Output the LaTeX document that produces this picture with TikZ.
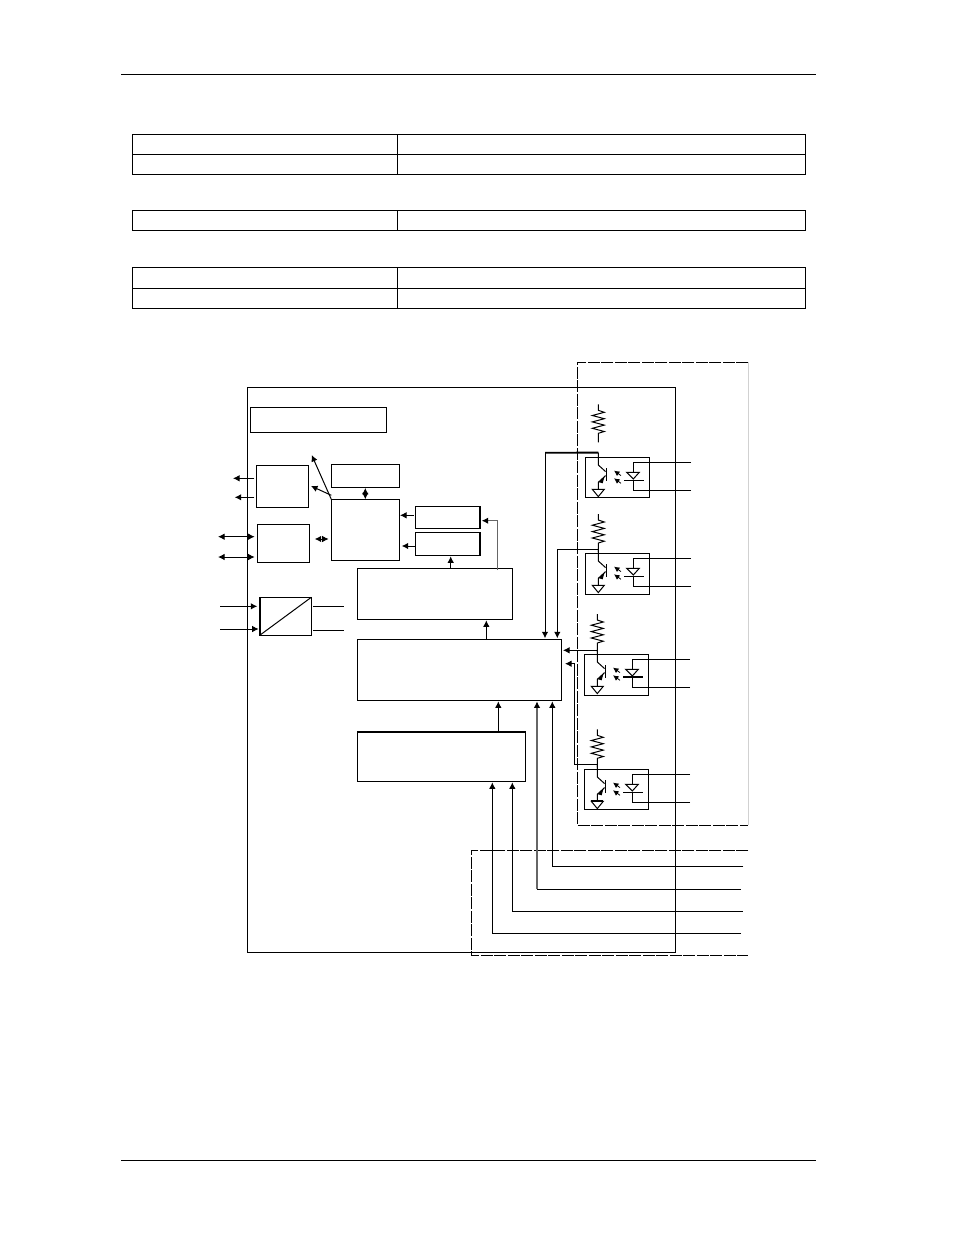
\documentclass[tikz,border=0pt]{standalone}
\usetikzlibrary{arrows.meta}
\tikzset{
  x=1pt,y=-1pt,
  every path/.style={line width=1pt,line join=miter},
  wire/.style={line width=1pt},
  gwire/.style={line width=1.2pt,draw=black!60},
  twire/.style={line width=1.8pt},
  arr/.style={wire,-{Latex[length=6.5pt,width=6.5pt]}},
  garr/.style={gwire,-{Latex[length=6.5pt,width=6.5pt,color=black]}},
  barr/.style={wire,{Latex[length=6.5pt,width=6.5pt]}-{Latex[length=6.5pt,width=6.5pt]}},
  tinyarr/.style={line width=.8pt,-{Latex[length=5.5pt,width=5.5pt]}},
  dashbox/.style={line width=1pt,dash pattern=on 12pt off 1.5pt},
  gdash/.style={line width=1pt,draw=black!18},
  bx/.style={draw,line width=1pt,inner sep=0pt,outer sep=0pt,anchor=north west},
}
% name, x1, y1, x2, y2
\newcommand{\bxnode}[6][]{%
  \pgfmathsetlengthmacro{\bw}{#5-#3}\pgfmathsetlengthmacro{\bh}{#6-#4}%
  \node[bx,minimum width=\bw,minimum height=\bh,#1] (#2) at (#3,#4) {};}
% optocoupler: name, x, y, h
\newcommand{\opto}[4]{%
  \begin{scope}[shift={(#2,#3)}]
    \node[bx,minimum width=64pt,minimum height=#4pt] (#1) at (0,0) {};
    \coordinate (#1c) at (13,-4.7);
    \coordinate (#1a) at (105.7,5.2);
    \coordinate (#1k) at (105.7,32.7);
    \coordinate (#1p) at (48,5.2);
    \coordinate (#1l) at (38.7,22.7);
    \coordinate (#1r) at (58.7,22.7);
    \draw (#1c) -- (13,7.7) -- (20.3,14.3);
    \draw (21,11) -- (21,23.7);
    \draw (20.3,18.3) -- (13,25) -- (13,32);
    \fill (13.2,24.8) -- (19,19.8) -- (17.4,26) -- cycle;
    \coordinate (#1gl) at (7,32);
    \coordinate (#1gr) at (19,32);
    \draw (#1gl) -- (#1gr) -- (13,39.3) -- cycle;
    \draw[tinyarr] (35.7,18.3) -- (28.7,13.3);
    \draw[tinyarr] (35.7,26) -- (28.7,21);
    \draw (41.3,15) -- (54,15) -- (48,21.7) -- cycle;
    \draw (#1a) -- (#1p) -- (48,15);
    \draw (#1k) -- (48,32.7) -- (48,22.7);
    \draw (#1l) -- (#1r);
  \end{scope}}
% resistor: name, x, top y
\newcommand{\resistor}[3]{%
  \coordinate (#1t) at (#2,#3);
  \coordinate (#1b) at (#2,#3+38);
  \draw[line join=miter] (#1t) -- ++(0,6) -- ++(6,2) -- ++(-12,3.2) -- ++(12,3.2) -- ++(-12,3.2) -- ++(12,3.2) -- ++(-12,3.2) -- ++(12,3.2) -- ++(-6,1.8) -- (#1b);}
\begin{document}
\begin{tikzpicture}
\useasboundingbox (0,0) rectangle (954,1235);
\fill[white] (0,0) rectangle (954,1235);
% page rules
\coordinate (hl) at (121,74.3); \coordinate (hr) at (816,74.3);
\coordinate (fl) at (121,1160); \coordinate (fr) at (816,1160);
\draw (hl) -- (hr);
\draw (fl) -- (fr);
% tables
\bxnode{ta}{132.3}{134.3}{397.3}{154.3}
\bxnode{tb}{397.3}{134.3}{805.3}{154.3}
\bxnode{tc}{132.3}{154.3}{397.3}{174.3}
\bxnode{td}{397.3}{154.3}{805.3}{174.3}
\bxnode{te}{132.3}{210.3}{397.3}{230.3}
\bxnode{tf}{397.3}{210.3}{805.3}{230.3}
\bxnode{tg}{132.3}{267.2}{397.3}{288.3}
\bxnode{th}{397.3}{267.2}{805.3}{288.3}
\bxnode{ti}{132.3}{288.3}{397.3}{308.3}
\bxnode{tj}{397.3}{288.3}{805.3}{308.3}
% dashed enclosures
\coordinate (ud1) at (748.3,362.3); \coordinate (ud2) at (577.3,362.3);
\coordinate (ud3) at (577.3,825.3); \coordinate (ud4) at (748.3,825.3);
\draw[dashbox] (ud1) -- (ud2) -- (ud3) -- (ud4);
\draw[gdash] (ud1) -- (ud4);
\coordinate (ld1) at (748.3,850.3); \coordinate (ld2) at (471.3,850.3);
\coordinate (ld3) at (471.3,955.3); \coordinate (ld4) at (748.3,955.3);
\draw[dashbox] (ld1) -- (ld2) -- (ld3) -- (ld4);
% blocks
\bxnode{outer}{247.5}{387.5}{675}{952}
\bxnode{title}{250.3}{407.5}{386.3}{432}
\bxnode{bA}{256.3}{465.3}{308.3}{507.3}
\bxnode{bB}{257.3}{524.3}{309.3}{562.3}
\bxnode{mem}{331.3}{464.3}{399.3}{487.3}
\bxnode{cpu}{331.3}{499.3}{399.3}{560.3}
\bxnode{sa}{415.3}{506.3}{480.3}{528.3}
\bxnode{sb}{415.3}{532.3}{480.3}{555.3}
\bxnode{lg}{357.3}{568.3}{512.7}{619.3}
\bxnode{mn}{357.3}{639.3}{561.3}{700.3}
\bxnode{lw}{357.3}{731.7}{525.3}{781.3}
\bxnode{cv}{259.7}{597.3}{311.3}{635.3}
\draw[twire] (lw.north west) -- (lw.north east);
\draw[twire] (sa.north east) -- (sa.south east);
\draw[twire] (sb.north east) -- (sb.south east);
\draw[twire] (cv.north west) -- (cv.south west);
\draw (cv.south west) -- (cv.north east);
% left arrows
\coordinate (a1) at (233,478.3); \coordinate (a2) at (234.7,497.3);
\draw[arr] ([xshift=-2pt]bA.west |- a1) -- (a1);
\draw[arr] ([xshift=-2pt]bA.west |- a2) -- (a2);
\coordinate (b1) at (218,536.7); \coordinate (b2) at (218,557);
\draw[barr] (b1) -- ([xshift=-2.6pt]bB.west |- b1);
\draw[barr] (b2) -- ([xshift=-2.6pt]bB.west |- b2);
\coordinate (c1) at (314.7,539);
\draw[barr] (c1) -- ([xshift=-2.6pt]cpu.west |- c1);
\draw[barr] ([yshift=-.6pt]mem.south) -- (cpu.north);
\coordinate (d1) at (311,486); \coordinate (d2) at (311.7,455);
\draw[arr] ([yshift=4pt]cpu.north west) -- (d1);
\draw[arr] (cpu.north west) -- (d2);
\coordinate (e1) at (413.7,515.3); \coordinate (e2) at (415.3,546);
\draw[arr] (e1) -- ([xshift=.7pt]cpu.east |- e1);
\draw[arr] (e2) -- ([xshift=2.4pt]cpu.east |- e2);
\coordinate (f1) at (450.7,568.3);
\draw[arr] (f1) -- ([yshift=-1pt]sb.south -| f1);
\coordinate (g1) at (497.7,570); \coordinate (g2) at (497.7,520.7);
\draw[garr] (g1) -- (g2) -- ([xshift=1.4pt]sa.east |- g2);
\coordinate (h1) at (486.3,639.3);
\draw[arr] (h1) -- ([yshift=-1pt]lg.south -| h1);
\coordinate (i1) at (498.3,731.7);
\draw[arr] (i1) -- ([yshift=-1pt]mn.south -| i1);
% converter wires
\coordinate (j1) at (220,606.3); \coordinate (j2) at (220,629);
\coordinate (j3) at (343.7,606.3); \coordinate (j4) at (343.7,630);
\draw[arr] (j1) -- ([xshift=-2.4pt]cv.west |- j1);
\draw[arr] (j2) -- ([xshift=-1pt]cv.west |- j2);
\draw ([xshift=1.7pt]cv.east |- j3) -- (j3);
\draw ([xshift=1.7pt]cv.east |- j4) -- (j4);
% lower signals
\coordinate (k1) at (741,933.3); \coordinate (k1c) at (492.3,933.3);
\coordinate (k2) at (742.7,911.3); \coordinate (k2c) at (512.3,911.3);
\coordinate (k3) at (740.7,889.3); \coordinate (k3c) at (537,889.3);
\coordinate (k4) at (743.3,866.7); \coordinate (k4c) at (552.3,866.7);
\draw[arr] (k1) -- (k1c) -- ([yshift=-1pt]lw.south -| k1c);
\draw[arr] (k2) -- (k2c) -- ([yshift=-1pt]lw.south -| k2c);
\draw[garr,line width=1.5pt] (k3c) -- ([yshift=-1pt]mn.south -| k3c);
\draw (k3) -- (k3c);
\draw[arr] (k4) -- (k4c) -- ([yshift=-1pt]mn.south -| k4c);
% optocouplers
\opto{oa}{585.3}{457.3}{40}
\opto{ob}{585.3}{553.3}{41}
\opto{oc}{584.3}{654.3}{41}
\opto{od}{584.3}{769.3}{40}
\resistor{ra}{598.3}{404.3}
\resistor{rb}{598.3}{514}
\resistor{rc}{597.3}{614}
\resistor{rd}{597.3}{729.3}
\draw (rbb) -- (obc);
\draw (rcb) -- (occ);
\draw (rdb) -- (odc);
% resistor to main block
\coordinate (wa) at (545,452.7);
\coordinate (wb) at (557.3,549);
\coordinate (wc) at (597.3,650.3);
\coordinate (wd) at (574.7,764.7); \coordinate (wd2) at (574.7,663.7);
\draw[twire] (oac) -- (wa);
\draw[arr] (wa) -- ([yshift=1pt]mn.north -| wa);
\draw[arr] (obc |- wb) -- (wb) -- ([yshift=1pt]mn.north -| wb);
\draw[arr] (wc) -- ([xshift=1.7pt]mn.east |- wc);
\draw[arr] (odc |- wd) -- (wd) -- (wd2) -- ([xshift=3.7pt]mn.east |- wd2);
% emphasised details
\draw[twire] (ocp) -- (oca);
\draw[twire] (ocl) -- (ocr);
\draw[twire] (odgl) -- (odgr);
\end{tikzpicture}
\end{document}
